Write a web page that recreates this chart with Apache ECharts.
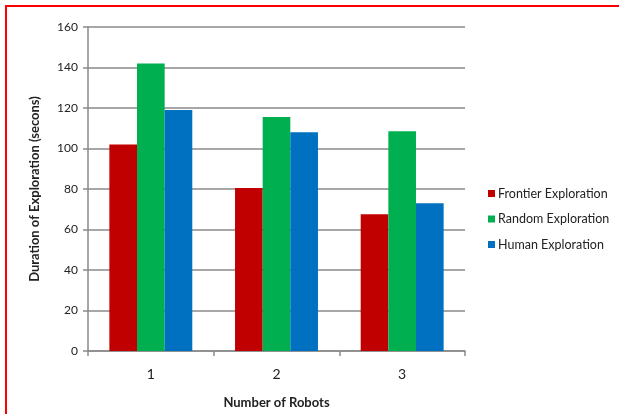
<!DOCTYPE html>
<html><head><meta charset="utf-8">
<script src="https://cdn.jsdelivr.net/npm/echarts@6/dist/echarts.min.js"></script>
<style>
html,body{margin:0;padding:0;background:#fff;overflow:hidden;}
#frame{position:absolute;left:5px;top:5px;width:640px;height:440px;border-top:2px solid #ff0000;border-left:2px solid #ff0000;}
#c{position:absolute;left:0;top:0;width:619px;height:414px;}
</style></head>
<body>
<div id="frame"></div>
<div id="c"></div>
<script>
const categories = ['1', '2', '3'];
const frontier = [102, 80.5, 67.5];
const random = [142, 115.5, 108.5];
const human = [119, 108, 73];
const seriesNames = ['Frontier Exploration', 'Random Exploration', 'Human Exploration'];
const yTicks = [0, 20, 40, 60, 80, 100, 120, 140, 160];

const FONT = 'Lato';
const chart = echarts.init(document.getElementById('c'), null, {renderer: 'canvas'});
chart.setOption({
  backgroundColor: 'transparent',
  animation: false,
  grid: {left: 88, right: 154, top: 27, bottom: 63},
  legend: {
    orient: 'vertical', left: 483, top: 182,
    itemWidth: 7, itemHeight: 7, itemGap: 12.5,
    icon: 'rect',
    textStyle: {fontFamily: FONT, fontSize: 12.5, color: '#222', padding: [0,0,0,-2]},
    data: seriesNames
  },
  xAxis: {
    type: 'category', data: categories,
    name: 'Number of Robots', nameLocation: 'middle', nameGap: 45,
    nameTextStyle: {fontFamily: FONT, fontSize: 13, fontWeight: 'bold', color: '#222'},
    axisLine: {lineStyle: {color: '#8a8a8a', width: 1.5}},
    axisTick: {show: true, length: 5, lineStyle: {color: '#8a8a8a', width: 1.5}},
    axisLabel: {fontFamily: FONT, fontSize: 14, color: '#222', margin: 16}
  },
  yAxis: {
    type: 'value', min: yTicks[0], max: yTicks[yTicks.length-1], interval: 20,
    name: 'Duration of Exploration (secons)', nameLocation: 'middle', nameGap: 47,
    nameTextStyle: {fontFamily: FONT, fontSize: 13, fontWeight: 'bold', color: '#222'},
    axisLine: {show: true, lineStyle: {color: '#8a8a8a', width: 1.5}},
    axisTick: {show: true, length: 5, lineStyle: {color: '#8a8a8a', width: 1.5}},
    axisLabel: {fontFamily: FONT, fontSize: 12, color: '#222', margin: 10},
    splitLine: {lineStyle: {color: '#8a8a8a', width: 1.5}}
  },
  series: [
    {name: seriesNames[0], type: 'bar', data: frontier, itemStyle: {color: '#c00000'}, barGap: '0%', barCategoryGap: '34%'},
    {name: seriesNames[1], type: 'bar', data: random, itemStyle: {color: '#00b050'}},
    {name: seriesNames[2], type: 'bar', data: human, itemStyle: {color: '#0070c0'}}
  ]
});
</script>
</body></html>
